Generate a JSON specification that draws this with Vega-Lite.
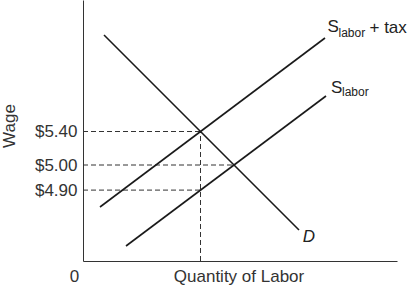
{
  "$schema": "https://vega.github.io/schema/vega-lite/v6.json",
  "width": 314,
  "height": 261,
  "autosize": {"type": "none"},
  "padding": {"left": 83, "top": 0, "right": 10, "bottom": 25},
  "background": "white",
  "config": {"view": {"stroke": null}},
  "datasets": {
    "curves": [
      {"series": "D", "q": 21, "w": 226},
      {"series": "D", "q": 216, "w": 31},
      {"series": "Stax", "q": 17, "w": 54},
      {"series": "Stax", "q": 242, "w": 223},
      {"series": "S", "q": 43, "w": 15},
      {"series": "S", "q": 243, "w": 165}
    ],
    "guides": [
      {"seg": "h540", "q": 0, "w": 129.5},
      {"seg": "h540", "q": 117.5, "w": 129.5},
      {"seg": "h500", "q": 0, "w": 96},
      {"seg": "h500", "q": 151, "w": 96},
      {"seg": "h490", "q": 0, "w": 70.9},
      {"seg": "h490", "q": 117.5, "w": 70.9},
      {"seg": "v", "q": 117.5, "w": 0},
      {"seg": "v", "q": 117.5, "w": 129.5}
    ],
    "bigText": [
      {"t": "S", "q": 244.5, "w": 229.3},
      {"t": "+ tax", "q": 286.5, "w": 228},
      {"t": "S", "q": 248, "w": 167.7}
    ],
    "subText": [
      {"t": "labor", "q": 255.5, "w": 224.3},
      {"t": "labor", "q": 259, "w": 165}
    ],
    "dText": [
      {"t": "D", "q": 226, "w": 19.3}
    ]
  },
  "layer": [
    {
      "data": {"name": "guides"},
      "mark": {"type": "line", "color": "#333", "strokeWidth": 1, "strokeDash": [5, 3]},
      "encoding": {
        "x": {
          "field": "q", "type": "quantitative",
          "scale": {"domain": [0, 314], "nice": false, "zero": false},
          "axis": {
            "values": [0], "labelExpr": "'0'", "labelOffset": -9, "labelFlush": false, "labelAlign": "center",
            "ticks": false, "tickSize": 0, "grid": false, "labelPadding": 20, "labelBaseline": "alphabetic",
            "labelFont": "Liberation Sans", "labelFontSize": 17, "labelColor": "#333",
            "domainColor": "#333", "domainWidth": 1,
            "title": "Quantity of Labor", "titleFont": "Liberation Sans", "titleFontSize": 17, "titleFontWeight": "normal",
            "titleColor": "#333", "titleX": 155.5, "titleY": 20, "titleBaseline": "alphabetic", "titleAlign": "center", "titleAnchor": null
          }
        },
        "y": {
          "field": "w", "type": "quantitative",
          "scale": {"domain": [0, 261], "nice": false, "zero": false},
          "axis": {
            "values": [70.9, 96, 129.5],
            "labelExpr": "datum.value > 120 ? '$5.40' : (datum.value > 90 ? '$5.00' : '$4.90')",
            "ticks": false, "tickSize": 0, "grid": false, "labelPadding": 6,
            "labelFont": "Liberation Sans", "labelFontSize": 17, "labelColor": "#333",
            "domainColor": "#333", "domainWidth": 1,
            "title": "Wage", "titleFont": "Liberation Sans", "titleFontSize": 17, "titleFontWeight": "normal",
            "titleColor": "#333", "titleAngle": -90, "titleX": -68.5, "titleY": 125.5, "titleBaseline": "alphabetic", "titleAlign": "center", "titleAnchor": null
          }
        },
        "detail": {"field": "seg"}
      }
    },
    {
      "data": {"name": "curves"},
      "mark": {"type": "line", "color": "#1a1a1a", "strokeWidth": 1.6},
      "encoding": {
        "x": {"field": "q", "type": "quantitative"},
        "y": {"field": "w", "type": "quantitative"},
        "detail": {"field": "series"}
      }
    },
    {
      "data": {"name": "bigText"},
      "mark": {"type": "text", "align": "left", "baseline": "alphabetic", "font": "Liberation Sans", "fontSize": 17, "color": "#222"},
      "encoding": {
        "x": {"field": "q", "type": "quantitative"},
        "y": {"field": "w", "type": "quantitative"},
        "text": {"field": "t"}
      }
    },
    {
      "data": {"name": "subText"},
      "mark": {"type": "text", "align": "left", "baseline": "alphabetic", "font": "Liberation Sans", "fontSize": 12, "color": "#222"},
      "encoding": {
        "x": {"field": "q", "type": "quantitative"},
        "y": {"field": "w", "type": "quantitative"},
        "text": {"field": "t"}
      }
    },
    {
      "data": {"name": "dText"},
      "mark": {"type": "text", "align": "center", "baseline": "alphabetic", "font": "Liberation Sans", "fontSize": 17, "fontStyle": "italic", "color": "#222"},
      "encoding": {
        "x": {"field": "q", "type": "quantitative"},
        "y": {"field": "w", "type": "quantitative"},
        "text": {"field": "t"}
      }
    }
  ]
}
